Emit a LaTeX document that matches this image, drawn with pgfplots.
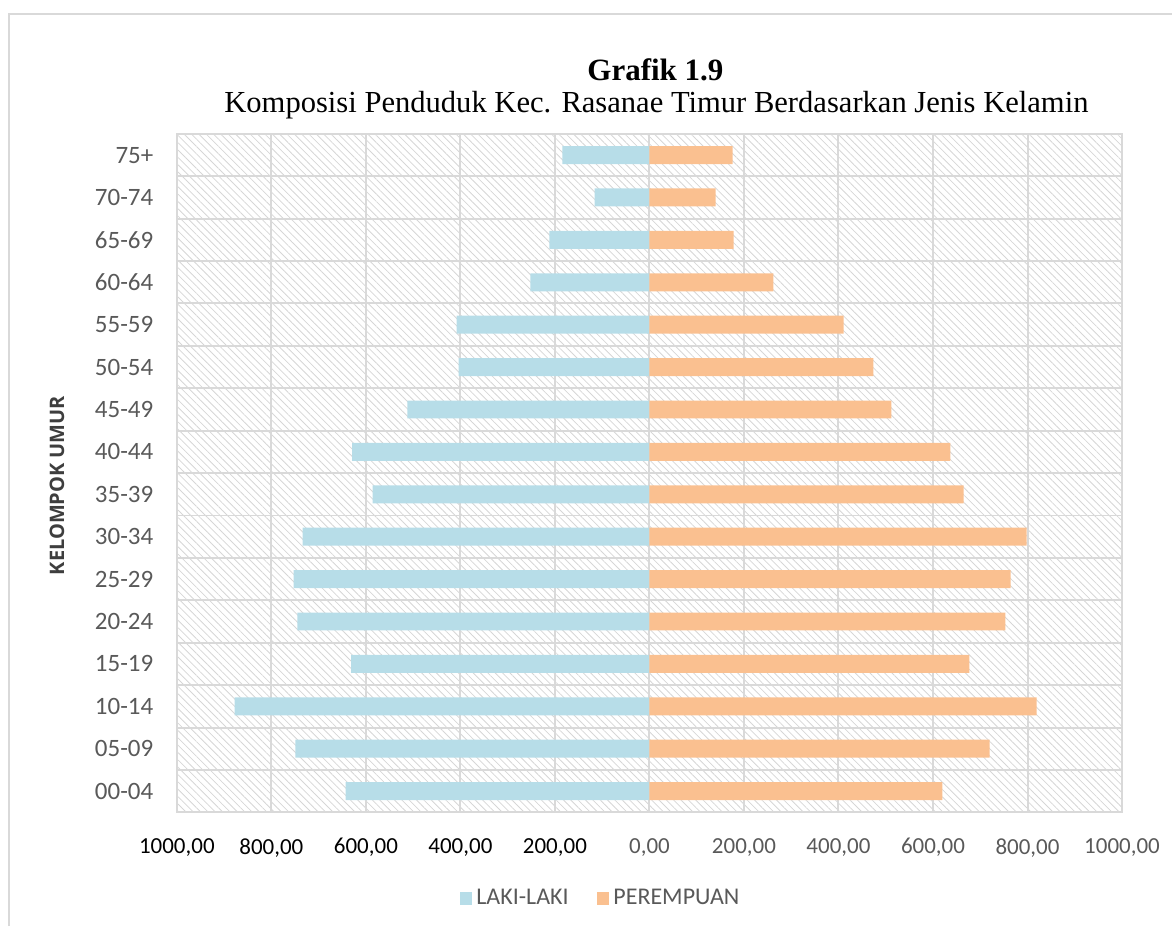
\documentclass[border=0pt]{standalone}
\usepackage{pgfplots}
\pgfplotsset{compat=1.18}
\usepackage{fontspec}
\setmainfont{Carlito}
\newfontfamily\titlefont{Liberation Serif}
\newfontfamily\labelfont{Open Sans}
\usetikzlibrary{patterns.meta}
\definecolor{laki}{HTML}{B7DDE8}
\definecolor{perem}{HTML}{FAC090}
\definecolor{gridc}{HTML}{D9D9D9}
\definecolor{hatch}{HTML}{D6D6D6}
\definecolor{txtgray}{HTML}{595959}
\begin{document}
\begin{tikzpicture}[x=1pt,y=1pt]
\path (0,0) rectangle (586.5,463.5);
\draw[gridc,line width=1pt] (4.5,0) -- (4.5,456.5) -- (586.5,456.5);
\begin{axis}[
  at={(88.5pt,57pt)}, anchor=south west,
  scale only axis, width=473pt, height=339.5pt,
  xmin=-1000, xmax=1000, ymin=-0.5, ymax=15.5,
  xtick={-1000,-800,...,1000},
  xticklabels={1000{,}00,800{,}00,600{,}00,400{,}00,200{,}00,\textcolor{txtgray}{0{,}00},\textcolor{txtgray}{200{,}00},\textcolor{txtgray}{400{,}00},\textcolor{txtgray}{600{,}00},\textcolor{txtgray}{800{,}00},\textcolor{txtgray}{1000{,}00}},
  xticklabel style={font=\fontsize{11.5}{12}\selectfont, yshift=-9.5pt},
  ytick={0,...,15},
  yticklabels={00-04,05-09,10-14,15-19,20-24,25-29,30-34,35-39,40-44,45-49,50-54,55-59,60-64,65-69,70-74,75+\hspace{2.5pt}},
  yticklabel style={font=\fontsize{12.5}{13}\selectfont, text=txtgray, xshift=-4pt},
  minor ytick={0.5,1.5,...,14.5},
  xmajorgrids, yminorgrids,
  major grid style={gridc,line width=1pt},
  minor grid style={gridc,line width=1pt},
  tick style={draw=none},
  axis line style={gridc,line width=1pt},
  axis background/.style={pattern={Lines[angle=-45,distance=2.6pt,line width=0.4pt]},pattern color=hatch},
  xbar, bar width=9pt, bar shift=0pt,
  legend style={at={(301pt-88.5pt,14pt-57pt)}, anchor=center, draw=none, fill=none, legend columns=2,
    font=\fontsize{12}{13}\selectfont, text=txtgray,
    /tikz/every even column/.append style={column sep=12pt}},
  legend image code/.code={\fill[#1] (0pt,-3.2pt) rectangle (6.4pt,3.2pt);},
  clip=false,
]
\addplot[draw=none, fill=laki] coordinates {
(-643,0) (-749,1) (-878,2) (-631,3) (-745,4) (-753,5) (-734,6) (-586,7)
(-629,8) (-512,9) (-404,10) (-408,11) (-252,12) (-212,13) (-116,14) (-184,15)};
\addlegendentry{LAKI-LAKI}
\addplot[draw=none, fill=perem] coordinates {
(620,0) (720,1) (819,2) (677,3) (753,4) (764,5) (798,6) (665,7)
(637,8) (512,9) (474,10) (411,11) (262,12) (178,13) (140,14) (176,15)};
\addlegendentry{PEREMPUAN}
\end{axis}
\node[rotate=90, font=\labelfont\bfseries\fontsize{10}{12}\selectfont, text=txtgray!70!black] at (28.5,220.5) {KELOMPOK UMUR};
\node[font=\titlefont\bfseries\fontsize{15.5}{18}\selectfont] at (328,428.5) {Grafik 1.9};
\node[font=\titlefont\fontsize{15.3}{18}\selectfont, anchor=base] at (328.5,407) {Komposisi Penduduk Kec. Rasanae Timur Berdasarkan Jenis Kelamin};
\end{tikzpicture}
\end{document}
